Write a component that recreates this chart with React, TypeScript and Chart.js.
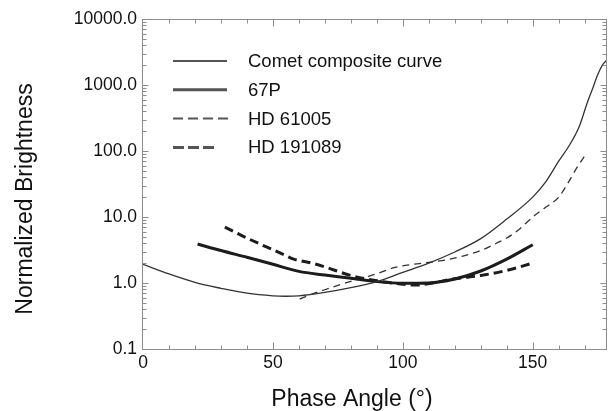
import React, { useEffect, useRef } from "react";
import { Chart, registerables } from "chart.js";

Chart.register(...registerables);

const FONT = "'Liberation Sans', Arial, Helvetica, sans-serif";

// ---- data ----
const seriesNames = ["Comet composite curve", "67P", "HD 61005", "HD 191089"];

const cometPhase = [0, 10, 20, 30, 40, 50, 55, 60, 70, 80, 90, 100, 110, 120, 130, 140, 150, 155, 160, 164, 168, 171, 173, 175, 177, 178.4];
const cometBrightness = [1.92, 1.37, 1.02, 0.83, 0.7, 0.64, 0.63, 0.64, 0.72, 0.85, 1.05, 1.45, 2.0, 2.95, 4.7, 9.3, 20, 34, 70, 120, 240, 540, 870, 1430, 2050, 2350];

const p67Phase = [21, 30, 40, 50, 60, 70, 80, 90, 100, 110, 120, 130, 140, 150];
const p67Brightness = [3.9, 3.1, 2.45, 1.92, 1.5, 1.32, 1.18, 1.05, 0.99, 1.0, 1.15, 1.52, 2.3, 3.8];

const hd61005Phase = [60.3, 65, 70, 75, 80, 85, 90, 97, 104, 110, 117, 123, 130, 136, 140, 145, 150, 155, 160, 164, 167, 170];
const hd61005Brightness = [0.57, 0.68, 0.79, 0.92, 1.06, 1.2, 1.38, 1.72, 1.92, 2.05, 2.25, 2.55, 3.1, 4.0, 4.8, 6.6, 10, 14, 20, 35, 56, 84];

const hd191089Phase = [31.5, 35, 40, 45, 50, 55, 58, 65, 70, 80, 90, 100, 105, 110, 120, 130, 140, 150];
const hd191089Brightness = [7.0, 6.0, 4.8, 3.9, 3.2, 2.6, 2.3, 2.0, 1.75, 1.3, 1.08, 0.96, 0.93, 0.98, 1.16, 1.3, 1.55, 2.0];

const xTickValues = [0, 50, 100, 150];
const yTickValues = [0.1, 1, 10, 100, 1000, 10000];

const xTitle = "Phase Angle (°)";
const yTitle = "Normalized Brightness";

const toPoints = (xs: number[], ys: number[]) => xs.map((x, i) => ({ x, y: ys[i] }));

// legend line styles (width, dash, length)
const legendStyles = [
  { width: 2, dash: [] as number[], end: 227 },
  { width: 3, dash: [] as number[], end: 227 },
  { width: 2, dash: [10, 5], end: 229 },
  { width: 3, dash: [11, 4], end: 214 },
];

const framePlugin = {
  id: "frame",
  afterDatasetsDraw(chart: any) {
    const { ctx, chartArea, scales } = chart;
    const { left, right, top, bottom } = chartArea;
    const x = scales.x;
    const y = scales.y;
    ctx.save();
    ctx.strokeStyle = "#8c8c8c";
    ctx.lineWidth = 1;
    ctx.setLineDash([]);
    const L = Math.round(left) - 0.5;
    const R = Math.round(right) - 0.5;
    const T = Math.round(top) + 0.5;
    const B = Math.round(bottom) + 0.5;
    ctx.strokeRect(L, T, R - L, B - T);
    ctx.beginPath();
    for (let v = 0; v <= x.max + 1e-6; v += 10) {
      const px = Math.round(x.getPixelForValue(v)) + 0.5;
      if (px <= L + 1 || px >= R - 1) continue;
      const len = v % 50 === 0 ? 7 : 4;
      ctx.moveTo(px, B);
      ctx.lineTo(px, B - len);
      ctx.moveTo(px, T);
      ctx.lineTo(px, T + len);
    }
    for (let d = 0.1; d < 10000 * 1.001; d *= 10) {
      for (let m = 1; m <= 9; m++) {
        const v = d * m;
        if (v > 10000 * 1.001) break;
        const py = Math.round(y.getPixelForValue(v)) + 0.5;
        const len = m === 1 ? 6 : 4;
        ctx.moveTo(L, py);
        ctx.lineTo(L + len, py);
        ctx.moveTo(R, py);
        ctx.lineTo(R - len, py);
      }
    }
    ctx.stroke();
    ctx.restore();
  },
  afterDraw(chart: any) {
    const { ctx } = chart;
    ctx.save();
    // legend
    const datasets = chart.data.datasets;
    datasets.forEach((ds: any, i: number) => {
      const st = legendStyles[i];
      const yy = 61 + i * 28.8;
      ctx.beginPath();
      ctx.strokeStyle = "#555";
      ctx.lineWidth = st.width;
      ctx.setLineDash(st.dash);
      ctx.moveTo(173, yy);
      ctx.lineTo(st.end, yy);
      ctx.stroke();
      ctx.setLineDash([]);
      ctx.fillStyle = "#111";
      ctx.font = `18.5px ${FONT}`;
      ctx.textAlign = "left";
      ctx.textBaseline = "middle";
      ctx.fillText(ds.label, 248, yy + 1);
    });
    // axis titles
    ctx.fillStyle = "#111";
    ctx.font = `23px ${FONT}`;
    ctx.textAlign = "center";
    ctx.textBaseline = "alphabetic";
    ctx.fillText(xTitle, 352, 405.5);
    ctx.translate(31.5, 199);
    ctx.rotate(-Math.PI / 2);
    ctx.fillText(yTitle, 0, 0);
    ctx.restore();
  },
};

export default function App() {
  const canvasRef = useRef<HTMLCanvasElement | null>(null);

  useEffect(() => {
    if (!canvasRef.current) return;
    const chart = new Chart(canvasRef.current, {
      type: "line",
      data: {
        datasets: [
          {
            label: seriesNames[0],
            data: toPoints(cometPhase, cometBrightness),
            borderColor: "#333",
            borderWidth: 1.3,
            cubicInterpolationMode: "monotone",
          },
          {
            label: seriesNames[1],
            data: toPoints(p67Phase, p67Brightness),
            borderColor: "#1c1c1c",
            borderWidth: 3,
            cubicInterpolationMode: "monotone",
          },
          {
            label: seriesNames[2],
            data: toPoints(hd61005Phase, hd61005Brightness),
            borderColor: "#333",
            borderWidth: 1.3,
            borderDash: [7, 5],
            cubicInterpolationMode: "monotone",
          },
          {
            label: seriesNames[3],
            data: toPoints(hd191089Phase, hd191089Brightness),
            borderColor: "#1c1c1c",
            borderWidth: 3,
            borderDash: [9, 5],
            cubicInterpolationMode: "monotone",
          },
        ] as any,
      },
      options: {
        animation: false,
        responsive: false,
        maintainAspectRatio: false,
        layout: { padding: { top: 19, right: 1.5, left: 0, bottom: 0 } },
        elements: { point: { radius: 0, hoverRadius: 0 } },
        plugins: { legend: { display: false }, tooltip: { enabled: false } },
        scales: {
          x: {
            type: "linear",
            min: 0,
            max: 178.4,
            grid: { display: false, drawTicks: false },
            border: { display: false },
            ticks: {
              padding: 4,
              color: "#111",
              font: { family: FONT, size: 17.5 },
              maxRotation: 0,
              autoSkip: false,
              callback: (v: any) => String(v),
            },
            afterBuildTicks: (s: any) => {
              s.ticks = xTickValues.map((v) => ({ value: v }));
            },
            afterFit: (s: any) => {
              s.height = 62;
            },
          },
          y: {
            type: "logarithmic",
            min: 0.1,
            max: 10000,
            grid: { display: false, drawTicks: false },
            border: { display: false },
            ticks: {
              padding: 6,
              color: "#111",
              font: { family: FONT, size: 17.5 },
              autoSkip: false,
              callback: (v: any) => Number(v).toFixed(1),
            },
            afterBuildTicks: (s: any) => {
              s.ticks = yTickValues.map((v) => ({ value: v }));
            },
            afterFit: (s: any) => {
              s.width = 143;
            },
          },
        },
      } as any,
      plugins: [framePlugin],
    });
    return () => chart.destroy();
  }, []);

  return (
    <div style={{ position: "absolute", left: 0, top: 0, width: 608, height: 411, background: "#fff" }}>
      <canvas ref={canvasRef} width={608} height={411} />
    </div>
  );
}
